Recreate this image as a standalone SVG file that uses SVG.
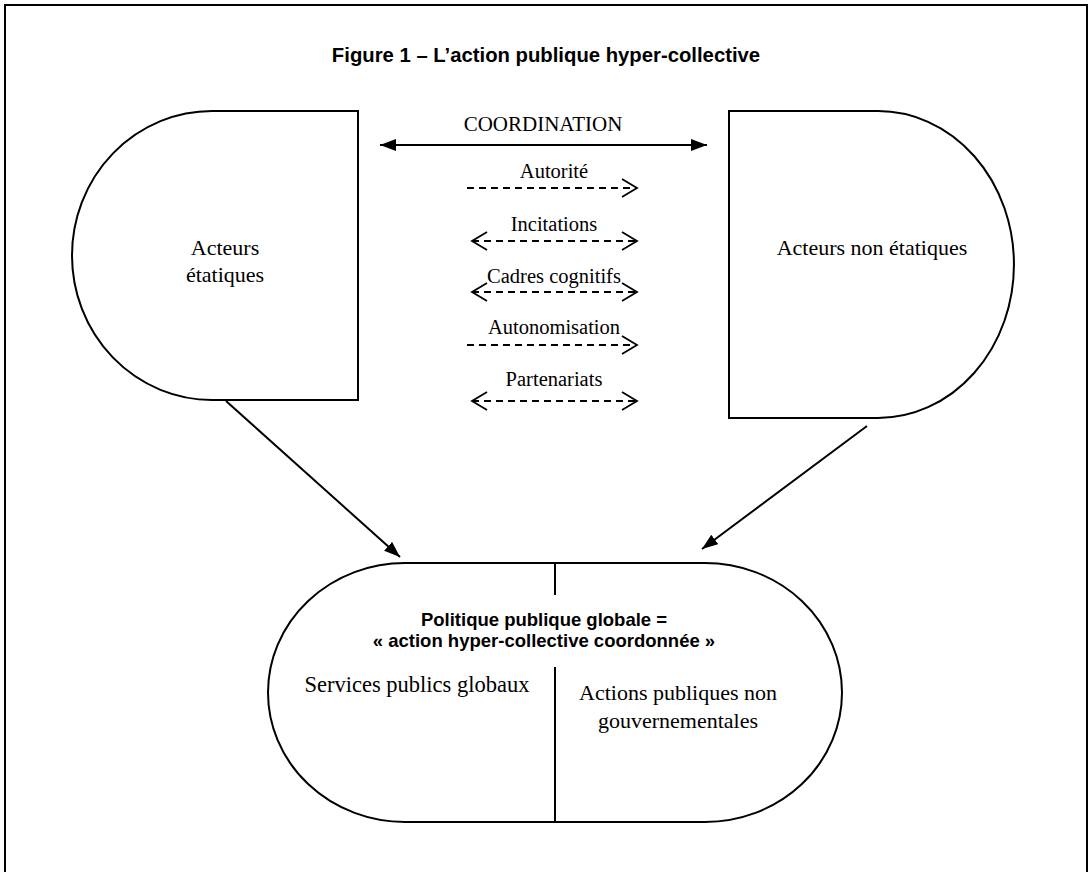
<svg xmlns="http://www.w3.org/2000/svg" width="1092" height="872" viewBox="0 0 1092 872">
<style>
.shape{fill:#fff;stroke:#000;stroke-width:2}
.serif{font-family:"Liberation Serif","Times New Roman",serif;fill:#000;text-anchor:middle}
.sans{font-family:"Liberation Sans",Arial,sans-serif;font-weight:bold;fill:#000;text-anchor:middle}
.solid{stroke:#000;stroke-width:2;fill:none}
.dash{stroke:#000;stroke-width:1.8;stroke-dasharray:7 5;fill:none}
</style>
<defs>
<marker id="tri" markerUnits="userSpaceOnUse" markerWidth="18" markerHeight="14" refX="16" refY="6" orient="auto-start-reverse">
<path d="M0,0 L16,6 L0,12 z" fill="#000"/>
</marker>
<marker id="chev" markerUnits="userSpaceOnUse" markerWidth="20" markerHeight="22" refX="16" refY="10" orient="auto-start-reverse">
<path d="M1,1 L16,10 L1,19" fill="none" stroke="#000" stroke-width="1.8"/>
</marker>
</defs>
<rect width="1092" height="872" fill="#fff"/>
<path d="M5,880 V5 H1087 V880" fill="none" stroke="#000" stroke-width="2"/>
<text class="sans" x="546" y="62" font-size="20.3">Figure 1 – L’action publique hyper-collective</text>

<g id="acteurs-etatiques">
<path class="shape" d="M358,111 V400 H212 A140,144.5 0 0 1 212,111 Z"/>
<text class="serif" x="225" y="255" font-size="22">Acteurs</text>
<text class="serif" x="225" y="282" font-size="22">étatiques</text>
</g>

<g id="acteurs-non-etatiques">
<path class="shape" d="M729,111 H878 A136,153.5 0 0 1 878,418 H729 Z"/>
<text class="serif" x="872" y="255" font-size="22">Acteurs non étatiques</text>
</g>

<g id="politique-publique">
<path class="shape" d="M405,563 H705 A137,129.5 0 0 1 705,822 H405 A137,129.5 0 0 1 405,563 Z"/>
<path class="solid" d="M555,563 V595 M555,667 V822"/>
<text class="sans" x="544" y="626" font-size="18.5">Politique publique globale =</text>
<text class="sans" x="544" y="647" font-size="18.5">« action hyper-collective coordonnée »</text>
<text class="serif" x="417" y="692" font-size="22.5">Services publics globaux</text>
<text class="serif" x="678" y="700" font-size="22">Actions publiques non</text>
<text class="serif" x="678" y="728" font-size="22">gouvernementales</text>
</g>

<g id="connectors">
<line class="solid" x1="380" y1="145" x2="707" y2="145" marker-start="url(#tri)" marker-end="url(#tri)"/>
<text class="serif" x="543" y="131" font-size="21">COORDINATION</text>

<line class="dash" x1="467" y1="188" x2="637" y2="188" marker-end="url(#chev)"/>
<text class="serif" x="554" y="178" font-size="20.5">Autorité</text>

<line class="dash" x1="472" y1="241" x2="637" y2="241" marker-start="url(#chev)" marker-end="url(#chev)"/>
<text class="serif" x="554" y="231" font-size="20.5">Incitations</text>

<line class="dash" x1="472" y1="292" x2="637" y2="292" marker-start="url(#chev)" marker-end="url(#chev)"/>
<text class="serif" x="554" y="283" font-size="20.5">Cadres cognitifs</text>

<line class="dash" x1="467" y1="345" x2="637" y2="345" marker-end="url(#chev)"/>
<text class="serif" x="554" y="334" font-size="20.5">Autonomisation</text>

<line class="dash" x1="472" y1="401" x2="637" y2="401" marker-start="url(#chev)" marker-end="url(#chev)"/>
<text class="serif" x="554" y="386" font-size="20.5">Partenariats</text>

<line class="solid" x1="226" y1="401" x2="400" y2="557" marker-end="url(#tri)"/>
<line class="solid" x1="867" y1="426" x2="702" y2="549" marker-end="url(#tri)"/>
</g>
</svg>
